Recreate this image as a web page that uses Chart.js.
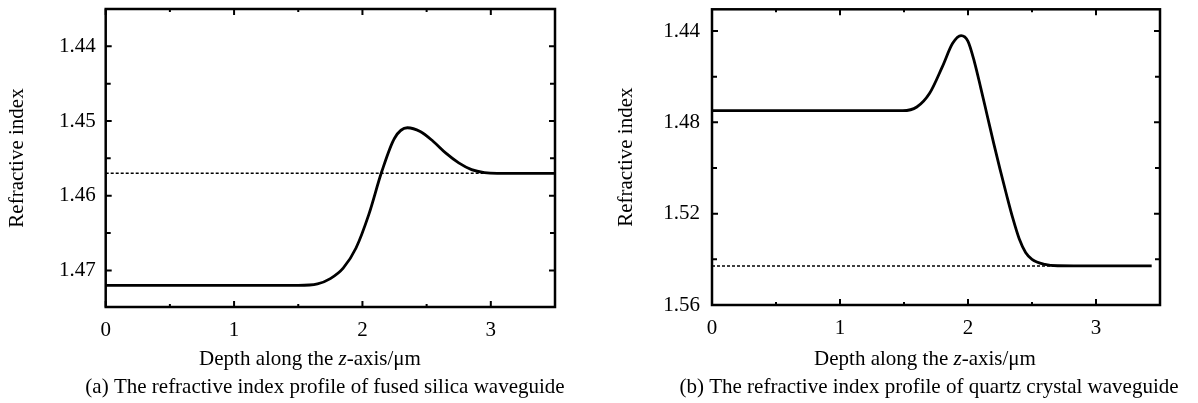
<!DOCTYPE html>
<html><head><meta charset="utf-8">
<script src="https://cdn.jsdelivr.net/npm/chart.js@4.4.1/dist/chart.umd.min.js"></script>
<style>
html,body{margin:0;padding:0;background:#fff;}
#wrap{position:relative;width:1198px;height:403px;display:flex;}
.panel{position:relative;width:599px;height:403px;}
canvas{display:block;}
</style></head><body>
<div id="wrap">
<div class="panel"><canvas id="c1" width="599" height="403"></canvas></div>
<div class="panel"><canvas id="c2" width="599" height="403"></canvas></div>
</div>
<script>
// ---- data ----
const fusedDepth = [0, 0.5, 1.0, 1.5, 1.65, 1.75, 1.85, 1.95, 2.05, 2.15, 2.25, 2.35, 2.45, 2.55, 2.65, 2.75, 2.85, 2.95, 3.05, 3.2, 3.5];
const fusedIndex = [1.4720, 1.4720, 1.4720, 1.4720, 1.4718, 1.4711, 1.4697, 1.4670, 1.4625, 1.4568, 1.4523, 1.4509, 1.4514, 1.4527, 1.4543, 1.4556, 1.4565, 1.4569, 1.4570, 1.4570, 1.4570];
const fusedSubstrateDepth = [0, 3.5];
const fusedSubstrateIndex = [1.457, 1.457];

const quartzDepth = [0, 0.5, 1.0, 1.49, 1.6, 1.7, 1.8, 1.88, 1.946, 2.0, 2.05, 2.1, 2.15, 2.2, 2.25, 2.3, 2.35, 2.4, 2.45, 2.5, 2.6, 2.7, 3.0, 3.435];
const quartzIndex = [1.4749, 1.4749, 1.4749, 1.4749, 1.4733, 1.4673, 1.4556, 1.4454, 1.4420, 1.4445, 1.4535, 1.4650, 1.4770, 1.4890, 1.5005, 1.5115, 1.5220, 1.5310, 1.5370, 1.5400, 1.5422, 1.5428, 1.5429, 1.5429];
const quartzSubstrateDepth = [0, 3.435];
const quartzSubstrateIndex = [1.5429, 1.5429];

const depthTicks = [0, 1, 2, 3];
const depthMinorTicks = [0.5, 1.5, 2.5];
const fusedIndexTicks = [1.44, 1.45, 1.46, 1.47];
const fusedIndexMinorTicks = [1.445, 1.455, 1.465];
const quartzIndexTicks = [1.44, 1.48, 1.52, 1.56];
const quartzIndexMinorTicks = [1.46, 1.50, 1.54];

const yTitle = 'Refractive index';
const xTitleParts = ['Depth along the ', 'z', '-axis/\u03bcm'];
const captions = ['(a) The refractive index profile of fused silica waveguide',
                  '(b) The refractive index profile of quartz crystal waveguide'];

// ---- rendering ----
const FAMILY = '"Liberation Serif", "Times New Roman", serif';
Chart.defaults.font.family = FAMILY;
Chart.defaults.font.size = 21;
Chart.defaults.color = '#000';

const pts = (xs, ys) => xs.map((x, i) => ({x, y: ys[i]}));
const noPad = s => { s.paddingTop = 0; s.paddingBottom = 0; s.paddingLeft = 0; s.paddingRight = 0; };

const framePlugin = {
  id: 'frame',
  afterDatasetsDraw(chart, args, o) {
    const {ctx, chartArea: a, scales: {x, y}} = chart;
    ctx.save();
    ctx.strokeStyle = '#000';
    ctx.lineWidth = 2.5;
    ctx.strokeRect(a.left, a.top, a.right - a.left, a.bottom - a.top);
    ctx.lineWidth = 2;
    ctx.beginPath();
    const xt = (vals, len) => vals.forEach(v => {
      const p = x.getPixelForValue(v);
      ctx.moveTo(p, a.bottom); ctx.lineTo(p, a.bottom - len);
      ctx.moveTo(p, a.top); ctx.lineTo(p, a.top + len);
    });
    const yt = (vals, len) => vals.forEach(v => {
      const p = y.getPixelForValue(v);
      ctx.moveTo(a.left, p); ctx.lineTo(a.left + len, p);
      ctx.moveTo(a.right, p); ctx.lineTo(a.right - len, p);
    });
    xt(o.xMajor, 6); xt(o.xMinor, 3);
    yt(o.yMajor, 6); yt(o.yMinor, 5);
    ctx.stroke();
    ctx.restore();
  },
  afterDraw(chart, args, o) {
    const {ctx} = chart;
    ctx.save();
    ctx.fillStyle = '#000';
    ctx.textBaseline = 'middle';
    ctx.textAlign = 'left';
    const fN = '21px ' + FAMILY, fI = 'italic 21px ' + FAMILY;
    const fonts = [fN, fI, fN];
    let widths = xTitleParts.map((t, i) => { ctx.font = fonts[i]; return ctx.measureText(t).width; });
    let total = widths.reduce((s, w) => s + w, 0);
    let cx = o.titleX - total / 2;
    xTitleParts.forEach((t, i) => { ctx.font = fonts[i]; ctx.fillText(t, cx, o.titleY); cx += widths[i]; });
    ctx.font = fN;
    ctx.textAlign = 'center';
    ctx.fillText(o.caption, o.captionX, o.captionY);
    ctx.restore();
  }
};

function makeChart(id, cfg) {
  return new Chart(document.getElementById(id), {
    type: 'line',
    data: {
      datasets: [
        {data: pts(cfg.xs, cfg.ys), borderColor: '#000', borderWidth: 2.8, pointRadius: 0,
         cubicInterpolationMode: 'monotone', fill: false},
        {data: pts(cfg.sx, cfg.sy), borderColor: '#000', borderWidth: 1.4, borderDash: [3, 2],
         pointRadius: 0, fill: false}
      ]
    },
    options: {
      responsive: false,
      animation: false,
      events: [],
      layout: {padding: {top: cfg.padTop, right: cfg.padRight, left: 0, bottom: 0}},
      plugins: {
        legend: {display: false}, tooltip: {enabled: false},
        frame: {xMajor: depthTicks, xMinor: depthMinorTicks, yMajor: cfg.yTicks, yMinor: cfg.yMinor,
                titleX: cfg.titleX, titleY: 359, caption: cfg.caption, captionX: cfg.captionX, captionY: 387}
      },
      scales: {
        x: {
          type: 'linear', min: 0, max: 3.5,
          grid: {display: false, drawTicks: false},
          border: {display: false},
          afterBuildTicks: s => { s.ticks = depthTicks.map(v => ({value: v})); },
          afterFit: s => { s.height = cfg.xHeight; noPad(s); },
          ticks: {padding: 11, autoSkip: false, maxRotation: 0, callback: v => String(v)}
        },
        y: {
          type: 'linear', min: cfg.yMin, max: cfg.yMax, reverse: true,
          grid: {display: false, drawTicks: false},
          border: {display: false},
          afterBuildTicks: s => { s.ticks = cfg.yTicks.map(v => ({value: v})); },
          afterFit: s => { s.width = cfg.yWidth; noPad(s); },
          ticks: {padding: cfg.yPad, autoSkip: false, callback: v => Number(v).toFixed(2)},
          title: {display: true, text: yTitle, padding: {top: cfg.yTitlePad, bottom: 0}}
        }
      }
    },
    plugins: [framePlugin]
  });
}

makeChart('c1', {
  xs: fusedDepth, ys: fusedIndex, sx: fusedSubstrateDepth, sy: fusedSubstrateIndex,
  yMin: 1.435, yMax: 1.4749, yTicks: fusedIndexTicks, yMinor: fusedIndexMinorTicks,
  padTop: 9, padRight: 44, yWidth: 105.7, xHeight: 96, yPad: 10, yTitlePad: 4.4,
  titleX: 310, captionX: 325, caption: captions[0]
});
makeChart('c2', {
  xs: quartzDepth, ys: quartzIndex, sx: quartzSubstrateDepth, sy: quartzSubstrateIndex,
  yMin: 1.4305, yMax: 1.56, yTicks: quartzIndexTicks, yMinor: quartzIndexMinorTicks,
  padTop: 9.3, padRight: 38, yWidth: 113, xHeight: 98, yPad: 12, yTitlePad: 14.4,
  titleX: 326, captionX: 330, caption: captions[1]
});
</script>
</body></html>
